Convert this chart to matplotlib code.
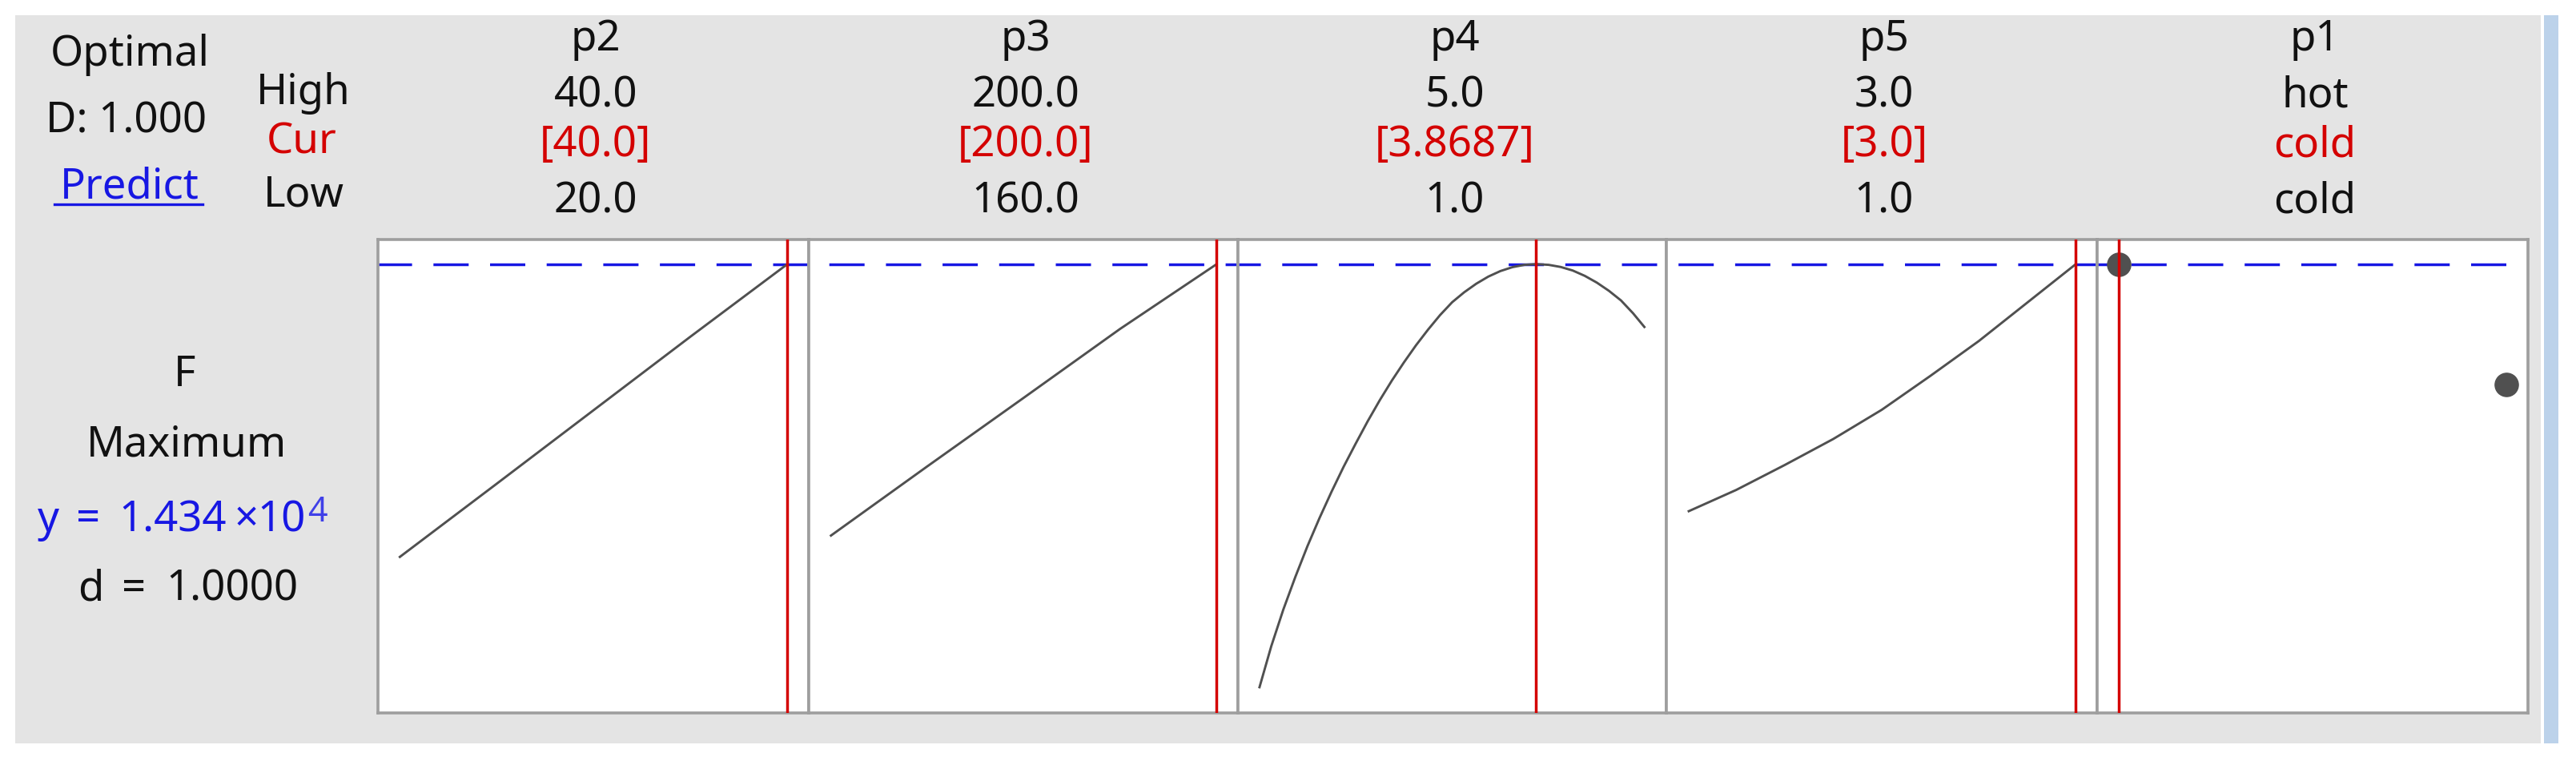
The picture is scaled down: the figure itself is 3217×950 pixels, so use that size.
import matplotlib
matplotlib.use("Agg")
import matplotlib.pyplot as plt
from matplotlib.patches import Rectangle
from matplotlib.lines import Line2D

W, H, DPI = 3217, 950, 100

# ---------------- data ----------------
factors = ["p2", "p3", "p4", "p5", "p1"]
high_labels = ["40.0", "200.0", "5.0", "3.0", "hot"]
cur_labels = ["[40.0]", "[200.0]", "[3.8687]", "[3.0]", "cold"]
low_labels = ["20.0", "160.0", "1.0", "1.0", "cold"]
lows = [20.0, 160.0, 1.0, 1.0, 0]
highs = [40.0, 200.0, 5.0, 3.0, 1]
current = [40.0, 200.0, 3.8687, 3.0, 0]

p2_x = [20, 25, 30, 35, 40]
p2_F = [6100, 8160, 10230, 12300, 14340]

p3_x = [160, 170, 180, 190, 200]
p3_F = [6700, 8650, 10580, 12520, 14340]

p4_x = [1.0, 1.125, 1.25, 1.375, 1.5, 1.625, 1.75, 1.875, 2.0, 2.125, 2.25,
        2.375, 2.5, 2.625, 2.75, 2.875, 3.0, 3.125, 3.25, 3.375, 3.5, 3.625,
        3.75, 3.8687, 4.0, 4.125, 4.25, 4.375, 4.5, 4.625, 4.75, 4.875, 5.0]
p4_F = [2430, 3610, 4640, 5560, 6420, 7210, 7950, 8650, 9300, 9930, 10520,
        11070, 11580, 12060, 12500, 12910, 13270, 13550, 13790, 13990, 14145, 14255,
        14320, 14340, 14320, 14260, 14160, 14010, 13820, 13590, 13320, 12960, 12550]

p5_x = [1.0, 1.25, 1.5, 1.75, 2.0, 2.25, 2.5, 2.75, 3.0]
p5_F = [7390, 8000, 8700, 9430, 10250, 11200, 12180, 13260, 14340]

p1_levels = ["cold", "hot"]
p1_F = [14340, 10970]

y_opt = 14340
response = "F"
goal = "Maximum"
y_parts = ["y", "=", "1.434", "×", "10"]
y_exp = "4"
d_parts = ["d", "=", "1.0000"]

# ---------------- style ----------------
BG = "#E4E4E4"
BORDER = "#9E9E9E"
RED = "#D40000"
BLUE = "#1717E3"
CURVE = "#505050"
TXT = "#111111"
FS = 38

plt.rcParams['font.family'] = ['Noto Sans', 'DejaVu Sans']

fig = plt.figure(figsize=(W / DPI, H / DPI), dpi=DPI, facecolor="white")


def fx(x):
    return x / W


def fy(y):
    return 1 - y / H


# grey window background and scrollbar strip
fig.patches.append(Rectangle((fx(19), fy(928)), fx(3173) - fx(19), fy(19) - fy(928),
                             transform=fig.transFigure, facecolor=BG, edgecolor="none", zorder=-10))
fig.patches.append(Rectangle((fx(3177), fy(928)), fx(3195) - fx(3177), fy(19) - fy(928),
                             transform=fig.transFigure, facecolor="#BCD2EA", edgecolor="none", zorder=-10))

edges = [471.5, 1010, 1546, 2081, 2619, 3157]
top, bot = 299, 890

xs = [p2_x, p3_x, p4_x, p5_x, [0, 1]]
ys = [p2_F, p3_F, p4_F, p5_F, p1_F]

all_F = p2_F + p3_F + p4_F + p5_F + p1_F
fmin, fmax = min(all_F), max(all_F)
rng = fmax - fmin
ylim = (fmin - 0.058 * rng, fmax + 0.058 * rng)

lw_dash = 2.5
period_px = 70.7
dash_start = 469.6
dash_len = 44 * 0.72 / lw_dash
gap_len = (period_px - 44) * 0.72 / lw_dash

for i in range(5):
    ax = fig.add_axes([fx(edges[i]), fy(bot), fx(edges[i + 1]) - fx(edges[i]), (bot - top) / H])
    ax.set_facecolor("white")
    lo, hi = lows[i], highs[i]
    pad = 0.055 * (hi - lo)
    ax.set_xlim(lo - pad, hi + pad)
    ax.set_ylim(*ylim)
    ax.set_xticks([])
    ax.set_yticks([])
    for s in ax.spines.values():
        s.set_color(BORDER)
        s.set_linewidth(2.6)
    off_px = (edges[i] - dash_start) % period_px
    off = off_px * 0.72 / lw_dash
    ax.axhline(y_opt, color=BLUE, lw=lw_dash, linestyle=(off, (dash_len, gap_len)), zorder=2)
    if i < 4:
        ax.plot(xs[i], ys[i], color=CURVE, lw=2.1, zorder=3,
                solid_joinstyle="round", solid_capstyle="butt")
    else:
        ax.plot(xs[i], ys[i], "o", color=CURVE, ms=21, linestyle="none", zorder=3)
    ax.axvline(current[i], color=RED, lw=2.5, zorder=4)

    cx = (edges[i] + edges[i + 1]) / 2 + 3
    fig.text(fx(cx), fy(63), factors[i], ha="center", va="baseline", fontsize=FS, color=TXT)
    fig.text(fx(cx), fy(133), high_labels[i], ha="center", va="baseline", fontsize=FS, color=TXT)
    fig.text(fx(cx), fy(195), cur_labels[i], ha="center", va="baseline", fontsize=FS, color=RED)
    fig.text(fx(cx), fy(265), low_labels[i], ha="center", va="baseline", fontsize=FS, color=TXT)

# left header block
fig.text(fx(162), fy(82), "Optimal", ha="center", va="baseline", fontsize=FS, color=TXT)
fig.text(fx(158), fy(165), "D: 1.000", ha="center", va="baseline", fontsize=FS, color=TXT)
fig.text(fx(162), fy(248), "Predict", ha="center", va="baseline", fontsize=FS, color=BLUE)
fig.lines.append(Line2D([fx(68), fx(253)], [fy(255), fy(255)], transform=fig.transFigure,
                        color=BLUE, lw=2.4))
fig.text(fx(379), fy(130), "High", ha="center", va="baseline", fontsize=FS, color=TXT)
fig.text(fx(377), fy(192), "Cur", ha="center", va="baseline", fontsize=FS, color=RED)
fig.text(fx(379), fy(257), "Low", ha="center", va="baseline", fontsize=FS, color=TXT)

# response block
fig.text(fx(231), fy(482), response, ha="center", va="baseline", fontsize=FS, color=TXT)
fig.text(fx(233), fy(570), goal, ha="center", va="baseline", fontsize=FS, color=TXT)
# predicted response, laid out piece by piece
y_pos = [(47, "left"), (110, "center"), (283, "right"), (308, "center"), (382, "right")]
for (px, ha), s in zip(y_pos, y_parts):
    fig.text(fx(px), fy(663), s, ha=ha, va="baseline", fontsize=FS, color=BLUE)
fig.text(fx(384), fy(651), y_exp, ha="left", va="baseline", fontsize=31, color="#4040E8")
# desirability
d_pos = [(97, "left"), (167, "center"), (372, "right")]
for (px, ha), s in zip(d_pos, d_parts):
    fig.text(fx(px), fy(750), s, ha=ha, va="baseline", fontsize=FS, color=TXT)

fig.savefig("out.png", dpi=DPI, facecolor="white")
